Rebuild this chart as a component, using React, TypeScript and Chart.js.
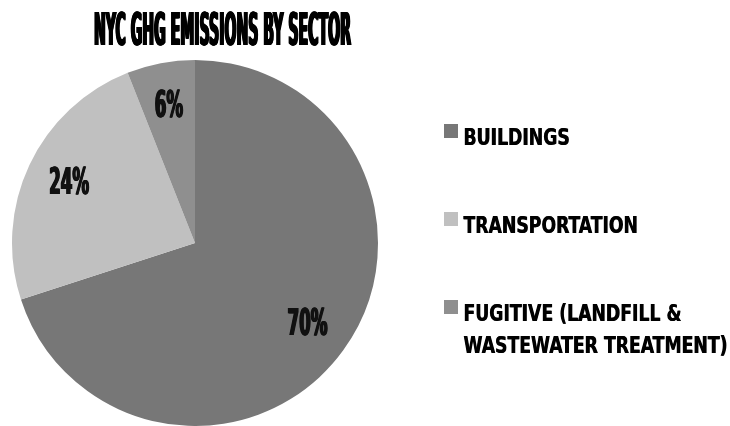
import React, { useEffect, useRef } from "react";
import { Chart, registerables } from "chart.js";

Chart.register(...registerables);

const title = "NYC GHG EMISSIONS BY SECTOR";
const categories = ["BUILDINGS", "TRANSPORTATION", "FUGITIVE (LANDFILL & WASTEWATER TREATMENT)"];
const shares = [70, 24, 6];
const legendLines = [["BUILDINGS"], ["TRANSPORTATION"], ["FUGITIVE (LANDFILL &", "WASTEWATER TREATMENT)"]];
const colors = ["#777777", "#c0c0c0", "#8f8f8f"];

const FONT = '"Liberation Sans Narrow", "DejaVu Sans Condensed", "Arial Narrow", sans-serif';

function drawScaled(
  ctx: CanvasRenderingContext2D,
  text: string,
  x: number,
  y: number,
  sx: number,
  align: CanvasTextAlign,
  extra: number
) {
  const steps = Math.max(1, Math.round(extra / 0.4) + 1);
  for (let k = 0; k < steps; k++) {
    const dx = steps === 1 ? 0 : (extra * k) / (steps - 1) - extra / 2;
    ctx.save();
    ctx.translate(x + dx, y);
    ctx.scale(sx, 1);
    ctx.textAlign = align;
    ctx.fillText(text, 0, 0);
    ctx.restore();
  }
}

const textPlugin = {
  id: "customText",
  afterDatasetsDraw(chart: any) {
    const ctx: CanvasRenderingContext2D = chart.ctx;
    ctx.save();
    ctx.fillStyle = "#000000";
    ctx.textBaseline = "alphabetic";

    // Title
    ctx.font = `bold 45px ${FONT}`;
    const tw = ctx.measureText(title).width;
    drawScaled(ctx, title, 222.5, 44.5, 257 / tw, "center", 1.6);

    // Slice labels
    ctx.font = `bold 37px ${FONT}`;
    const lsx = 40 / ctx.measureText("24%").width;
    ctx.textBaseline = "middle";
    const meta = chart.getDatasetMeta(0);
    const total = shares.reduce((a, b) => a + b, 0);
    meta.data.forEach((arc: any, i: number) => {
      const p = arc.getProps(["x", "y", "startAngle", "endAngle", "outerRadius"], true);
      const mid = (p.startAngle + p.endAngle) / 2;
      const r = p.outerRadius * 0.76;
      const label = Math.round((shares[i] / total) * 100) + "%";
      ctx.fillStyle = "#111111";
      drawScaled(ctx, label, p.x + Math.cos(mid) * r, p.y + Math.sin(mid) * r + 1, lsx, "center", 1.4);
    });

    // Legend
    ctx.textBaseline = "alphabetic";
    ctx.font = `bold 23.5px ${FONT}`;
    const gsx = 264 / ctx.measureText("WASTEWATER TREATMENT)").width;
    const tops = [124, 212, 300];
    legendLines.forEach((lines, i) => {
      ctx.fillStyle = colors[i];
      ctx.fillRect(444, tops[i], 14, 14);
      ctx.fillStyle = "#000000";
      lines.forEach((ln, j) => {
        drawScaled(ctx, ln, 463.5, tops[i] + 21 + j * 32, gsx, "left", 0.6);
      });
    });
    ctx.restore();
  },
};

export default function App() {
  const ref = useRef<HTMLCanvasElement | null>(null);
  useEffect(() => {
    if (!ref.current) return;
    const chart = new Chart(ref.current, {
      type: "pie",
      data: {
        labels: categories,
        datasets: [
          {
            data: shares,
            backgroundColor: colors,
            borderWidth: 0,
          },
        ],
      },
      options: {
        responsive: false,
        animation: false,
        layout: { padding: { left: 12, top: 60, right: 352, bottom: 0 } },
        plugins: {
          legend: { display: false },
          title: { display: false },
          tooltip: { enabled: false },
        },
      },
      plugins: [textPlugin],
    });
    return () => chart.destroy();
  }, []);
  return (
    <canvas
      ref={ref}
      width={730}
      height={426}
      style={{ position: "fixed", left: 0, top: 0, width: 730, height: 426, background: "#ffffff" }}
    />
  );
}
